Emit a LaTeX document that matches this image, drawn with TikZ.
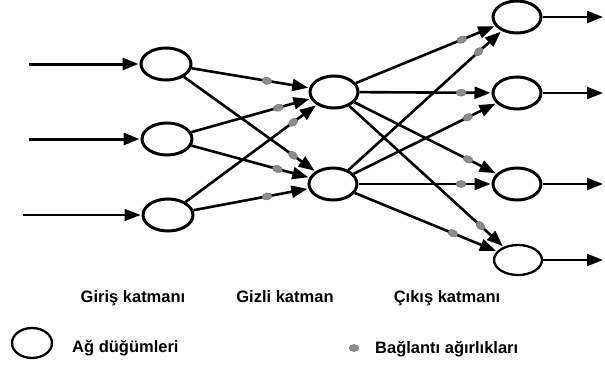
\documentclass[tikz,border=0pt]{standalone}
\usepackage{fontspec}
\setmainfont{Liberation Sans}
\usetikzlibrary{arrows.meta,shapes.geometric}
\begin{document}
\begin{tikzpicture}[x=1pt,y=-1pt,
  neuron/.style={draw=black,line width=3pt,ellipse,minimum width=50pt,minimum height=32pt,inner sep=0pt},
  conn/.style={line width=2.6pt,-{Triangle[length=16pt,width=12pt]},shorten >=1pt},
  wdot/.style={fill=black!45,draw=black!55,line width=0.5pt,ellipse,minimum width=10pt,minimum height=7pt,inner sep=0pt,sloped},
  lbl/.style={font=\fontsize{16.5}{19}\selectfont\bfseries,inner sep=0pt}
]
\useasboundingbox[fill=white] (0,0) rectangle (605,372);
% nodes
\node[neuron] (i1) at (166,64) {};
\node[neuron] (i2) at (167,139) {};
\node[neuron] (i3) at (168,215) {};
\node[neuron,minimum width=48pt] (h1) at (334,92) {};
\node[neuron,minimum width=48pt] (h2) at (333,184) {};
\node[neuron,minimum width=48pt] (o1) at (517,17) {};
\node[neuron,minimum width=48pt] (o2) at (517,93) {};
\node[neuron,minimum width=48pt] (o3) at (517,184) {};
\node[neuron,minimum width=48pt,minimum height=30pt,line width=2.3pt] (o4) at (518,260) {};
% input arrows
\coordinate (in1) at (29,64);
\coordinate (in2) at (29,139);
\coordinate (in3) at (23,215);
\draw[conn,line width=3pt] (in1) -- (i1);
\draw[conn,line width=3pt] (in2) -- (i2);
\draw[conn,line width=1.4pt] (in3) -- (i3);
% output arrows
\coordinate (out1) at (604,17);
\coordinate (out2) at (604,93);
\coordinate (out3) at (604,184);
\coordinate (out4) at (604,260);
\draw[conn,line width=2.2pt] (o1) -- (out1);
\draw[conn,line width=2.2pt] (o2) -- (out2);
\draw[conn,line width=2.2pt] (o3) -- (out3);
\draw[conn,line width=2.2pt] (o4) -- (out4);
% input -> hidden
\draw[conn] (i1) -- (h1) node[wdot,pos=0.64] (w11) {};
\draw[conn] (i2) -- (h1) node[wdot,pos=0.73] (w21) {};
\draw[conn] (i3) -- (h1) node[wdot,pos=0.82] (w31) {};
\draw[conn] (i1) -- (h2) node[wdot,pos=0.83] (w12) {};
\draw[conn] (i2) -- (h2) node[wdot,pos=0.73] (w22) {};
\draw[conn] (i3) -- (h2) node[wdot,pos=0.64] (w32) {};
% hidden -> output
\draw[conn] (h1) -- (o1) node[wdot,pos=0.76] (v11) {};
\draw[conn] (h2) -- (o1) node[wdot,pos=0.85] (v21) {};
\draw[conn] (h1) -- (o2) node[wdot,pos=0.77] (v12) {};
\draw[conn] (h2) -- (o2) node[wdot,pos=0.80] (v22) {};
\draw[conn] (h1) -- (o3) node[wdot,pos=0.80] (v13) {};
\draw[conn] (h2) -- (o3) node[wdot,pos=0.77] (v23) {};
\draw[conn] (h1) -- (o4) node[wdot,pos=0.85] (v14) {};
\draw[conn] (h2) -- (o4) node[wdot,pos=0.69] (v24) {};
% labels
\node[lbl,anchor=base] (l1) at (133,302) {Giriş katmanı};
\node[lbl,anchor=base] (l2) at (285,302) {Gizli katman};
\node[lbl,anchor=base] (l3) at (447,302) {Çıkış katmanı};
% legend
\node[neuron,minimum width=40pt,minimum height=30pt,line width=2.3pt] (leg1) at (32,343) {};
\node[lbl,anchor=base west] (leg1t) at (72,352) {Ağ düğümleri};
\node[wdot,sloped=false] (leg2) at (354,348) {};
\node[lbl,anchor=base west] (leg2t) at (375,353) {Bağlantı ağırlıkları};
\end{tikzpicture}
\end{document}
